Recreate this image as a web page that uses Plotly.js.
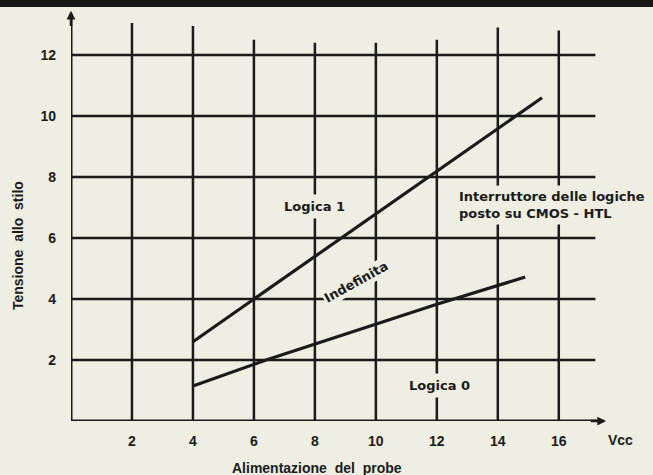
<!DOCTYPE html>
<html>
<head>
<meta charset="utf-8">
<script src="https://cdn.plot.ly/plotly-3.0.1.min.js"></script>
<style>html,body{margin:0;padding:0;background:#efeee2;}</style>
</head>
<body>
<div id="chart" style="width:653px;height:475px;"></div>
<script>
// ---- data ----
const xTickVals = [2, 4, 6, 8, 10, 12, 14, 16];
const xTickText = ['2', '4', '6', '8', '10', '12', '14', '16'];
const yTickVals = [2, 4, 6, 8, 10, 12];
const yTickText = ['2', '4', '6', '8', '10', '12'];

// Logica 1 threshold (upper line)
const upperX = [4, 6, 15.45];
const upperY = [2.6, 4.0, 10.6];
// Logica 0 threshold (lower line)
const lowerX = [4, 6.4, 12, 14.9];
const lowerY = [1.15, 2.0, 3.83, 4.72];

const xTitle = 'Alimentazione  del  probe';
const yTitle = 'Tensione  allo  stilo';
const unitLabel = 'Vcc';
const regionLabels = ['Logica 1', 'Indefinita', 'Logica 0'];
const noteText = 'Interruttore delle logiche<br>posto su CMOS - HTL';

// ---- styling / layout ----
const BG = '#efeee2';
const INK = '#1b1b1b';
const FONT = {family: 'DejaVu Sans, Liberation Sans, Arial, sans-serif', size: 13, color: INK, weight: 700};
const TICKFONT = {family: 'Liberation Sans, Arial, sans-serif', size: 14, color: INK, weight: 700};

const gridTop = {2: 13.05, 4: 12.95, 6: 12.5, 8: 12.4, 10: 12.4, 12: 12.5, 14: 12.9, 16: 12.8};
const shapes = [];
// top black band
shapes.push({type: 'rect', xref: 'paper', yref: 'paper', x0: -0.2, x1: 1.1, y0: 0.9976, y1: 1.03,
  fillcolor: '#161616', line: {width: 0}, layer: 'above'});
yTickVals.forEach(v => shapes.push({type: 'line', xref: 'x', yref: 'y', x0: 0, x1: 17.2, y0: v, y1: v,
  line: {color: INK, width: 2.5}, layer: 'below'}));
xTickVals.forEach(v => shapes.push({type: 'line', xref: 'x', yref: 'y', x0: v, x1: v, y0: 0, y1: gridTop[v],
  line: {color: INK, width: 2.5}, layer: 'below'}));
// axes
shapes.push({type: 'line', xref: 'x', yref: 'y', x0: 0, x1: 17.4, y0: 0, y1: 0, line: {color: INK, width: 3}, layer: 'below'});
shapes.push({type: 'line', xref: 'x', yref: 'y', x0: 0, x1: 0, y0: 0, y1: 13.3, line: {color: INK, width: 3}, layer: 'below'});

const ann = [
  {x: 17.55, y: 0, ax: 17.0, ay: 0, axref: 'x', ayref: 'y', xref: 'x', yref: 'y', text: '', showarrow: true,
   arrowhead: 2, arrowsize: 0.7, arrowwidth: 2.5, arrowcolor: INK},
  {x: 0, y: 13.45, ax: 0, ay: 12.9, axref: 'x', ayref: 'y', xref: 'x', yref: 'y', text: '', showarrow: true,
   arrowhead: 2, arrowsize: 0.7, arrowwidth: 2.5, arrowcolor: INK},
  {x: 8.0, y: 7.02, xref: 'x', yref: 'y', text: regionLabels[0], showarrow: false, font: FONT,
   bgcolor: BG, borderpad: 4},
  {x: 9.38, y: 4.56, xref: 'x', yref: 'y', text: regionLabels[1], showarrow: false, font: FONT,
   textangle: -29, bgcolor: BG, borderpad: 1},
  {x: 12.1, y: 1.15, xref: 'x', yref: 'y', text: regionLabels[2], showarrow: false, font: FONT,
   bgcolor: BG, borderpad: 4},
  {x: 12.59, y: 7.07, xref: 'x', yref: 'y', xanchor: 'left', align: 'left', text: noteText, showarrow: false,
   font: FONT, bgcolor: BG, borderpad: 3},
  {x: 0.975, y: -0.0458, xref: 'paper', yref: 'paper', xanchor: 'center', yanchor: 'middle',
   text: unitLabel, showarrow: false, font: TICKFONT},
  {x: 0.436, y: -0.113, xref: 'paper', yref: 'paper', xanchor: 'center', yanchor: 'middle',
   text: xTitle, showarrow: false, font: TICKFONT},
  {x: -0.094, y: 0.424, xref: 'paper', yref: 'paper', xanchor: 'center', yanchor: 'middle',
   text: yTitle, showarrow: false, font: TICKFONT, textangle: -90}
];

const traces = [
  {x: upperX, y: upperY, type: 'scatter', mode: 'lines', line: {color: INK, width: 3.2}, hoverinfo: 'skip', cliponaxis: false},
  {x: lowerX, y: lowerY, type: 'scatter', mode: 'lines', line: {color: INK, width: 3.2}, hoverinfo: 'skip', cliponaxis: false}
];

const layout = {
  width: 653, height: 475,
  margin: {l: 71, r: 18, t: 6, b: 54},
  paper_bgcolor: BG, plot_bgcolor: BG,
  showlegend: false,
  xaxis: {range: [0, 18.5], tickvals: xTickVals, ticktext: xTickText, showgrid: false, zeroline: false,
    showline: false, ticks: '', ticklabelstandoff: 10, tickfont: TICKFONT, fixedrange: true},
  yaxis: {range: [0, 13.607], tickvals: yTickVals, ticktext: yTickText, showgrid: false, zeroline: false,
    showline: false, ticks: '', ticklabelstandoff: 14, tickfont: TICKFONT, fixedrange: true},
  shapes: shapes,
  annotations: ann
};

Plotly.newPlot('chart', traces, layout, {displayModeBar: false, staticPlot: true});
</script>
</body>
</html>
